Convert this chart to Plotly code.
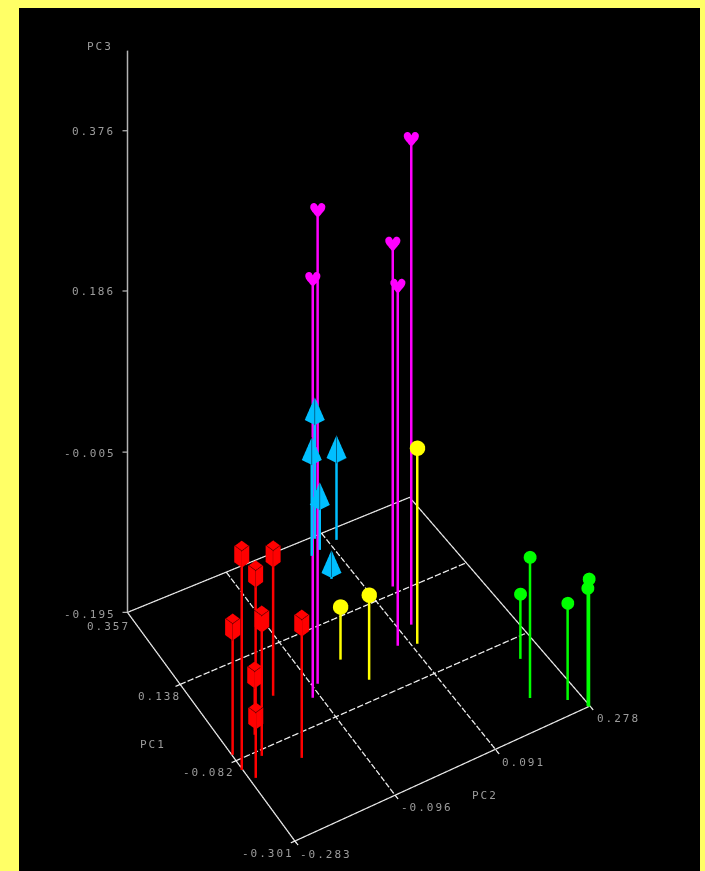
import numpy as np
import plotly.graph_objects as go

# PC2 is drawn on the scene x axis, PC1 on the y axis, PC3 on z
red_pc1 = [-0.0526, -0.0951, 0.0350, -0.0830, 0.0404, -0.1264, -0.0291, -0.1266]
red_pc2 = [-0.2889, -0.2931, -0.1992, -0.2480, -0.1624, -0.1925, -0.2340, -0.2820]
red_pc3 = [-0.0435, 0.0607, -0.0387, -0.0328, -0.0269, -0.0352, -0.1240, -0.1216]

magenta_pc1 = [0.0656, 0.0241, -0.0025, 0.1689, 0.0316]
magenta_pc2 = [0.1188, -0.0843, -0.1076, 0.1359, 0.0752]
magenta_pc3 = [0.3803, 0.3661, 0.3010, 0.2110, 0.2312]

cyan_pc1 = [0.3548, 0.3195, 0.3313, 0.3252, 0.2487]
cyan_pc2 = [0.0795, 0.0556, 0.1097, 0.0740, 0.0575]
cyan_pc3 = [-0.0447, -0.0719, -0.0885, -0.1323, -0.1784]

yellow_pc1 = [0.0559, -0.0169, 0.0171]
yellow_pc2 = [-0.0237, -0.0054, 0.1057]
yellow_pc3 = [-0.1323, -0.0944, 0.0370]

green_pc1 = [-0.2135, -0.1167, -0.2546, -0.2904, -0.2875]
green_pc2 = [0.2062, 0.2373, 0.2584, 0.2815, 0.2804]
green_pc3 = [-0.0281, -0.1181, -0.0802, -0.0435, -0.0553]

floor_pc3 = -0.195
pc3_top = 0.471
pc3_ticks = [-0.195, -0.005, 0.186, 0.376]

# floor outline corners (left, bottom, right, back, left)
frame_pc1 = [0.3682, -0.3059, -0.2898, 0.3521, 0.3682]
frame_pc2 = [-0.2772, -0.2981, 0.2837, 0.2629, -0.2772]

# interior floor rules: start and end
rule_pc1 = [[0.1560, 0.1507], [-0.0690, -0.0647], [0.3617, -0.2999], [0.3568, -0.2972]]
rule_pc2 = [[-0.2849, 0.2705], [-0.2914, 0.2766], [-0.0881, -0.1006], [0.0942, 0.0972]]

# outer tick stubs on the floor edges
pc1_edge_ticks = [(0.1560, -0.2849), (-0.0690, -0.2914), (-0.3059, -0.2981)]
pc2_edge_ticks = [(-0.2999, -0.1006), (-0.2972, 0.0972), (-0.3059, -0.2981), (-0.2898, 0.2837)]

# label text, anchored at (pc1, pc2, pc3)
labels = [
    ("PC3", 0.3682, -0.2772, 0.471, "right", -15, 4),
    ("0.376", 0.3682, -0.2772, 0.376, "right", -15, -1),
    ("0.186", 0.3682, -0.2772, 0.186, "right", -15, -1),
    ("-0.005", 0.3682, -0.2772, -0.005, "right", -15, -1),
    ("-0.195", 0.3682, -0.2772, -0.195, "right", -15, -2),
    ("0.357", 0.3682, -0.2772, -0.195, "right", 0, -14),
    ("0.138", 0.1560, -0.2849, -0.195, "right", -2, -12),
    ("PC1", 0.02, -0.29, -0.195, "center", -60, -14),
    ("-0.082", -0.0690, -0.2914, -0.195, "right", -5, -12),
    ("-0.301", -0.3059, -0.2981, -0.195, "right", -5, -12),
    ("-0.283", -0.3059, -0.2981, -0.195, "left", 9, -13),
    ("-0.096", -0.2999, -0.1006, -0.195, "left", 10, -12),
    ("PC2", -0.30, -0.02, -0.195, "center", 49, -18),
    ("0.091", -0.2972, 0.0972, -0.195, "left", 9, -12),
    ("0.278", -0.2898, 0.2837, -0.195, "left", 10, -12),
]

RED, MAGENTA, CYAN, YELLOW, GREEN = "#ff0000", "#ff00ff", "#00bfff", "#ffff00", "#00ff00"

# A shift along the line of sight: it leaves the picture position unchanged
# and only lifts the cyan group in front of the stems behind it.
TOWARD_VIEWER = (-0.6, -0.3078, 0.316)
NO_SHIFT = (0.0, 0.0, 0.0)


def with_gaps(rows):
    out = []
    for r in rows:
        out += list(r) + [None]
    return out


def stems(pc1, pc2, pc3, color, shift=NO_SHIFT):
    return go.Scatter3d(
        x=with_gaps([(b + shift[1], b + shift[1]) for b in pc2]),
        y=with_gaps([(a + shift[0], a + shift[0]) for a in pc1]),
        z=with_gaps([(floor_pc3 + shift[2], c + shift[2]) for c in pc3]),
        mode="lines", line=dict(color=color, width=5),
        hoverinfo="skip", showlegend=False,
    )


def flat_mesh(vx, vy, vz, i, j, k, color):
    return go.Mesh3d(
        x=vx, y=vy, z=vz, i=i, j=j, k=k, color=color, flatshading=True,
        lighting=dict(ambient=1, diffuse=0, specular=0, roughness=1, fresnel=0),
        hoverinfo="skip", showlegend=False,
    )


def dark_lines(xs, ys, zs, color):
    return go.Scatter3d(
        x=xs, y=ys, z=zs, mode="lines", line=dict(color=color, width=1.2),
        hoverinfo="skip", showlegend=False,
    )


def cubes(pc1, pc2, pc3):
    # corner offsets of the box footprint: left, front, right, back (pc1, pc2)
    foot = [(0.00729, -0.01084), (-0.01234, -0.00633), (-0.00729, 0.01084), (0.01234, 0.00633)]
    dz = 0.0095
    vx, vy, vz, fi, fj, fk = [], [], [], [], [], []
    ex, ey, ez = [], [], []
    cube_faces = [(0, 1, 2), (0, 2, 3), (4, 5, 6), (4, 6, 7), (0, 1, 5), (0, 5, 4),
                  (1, 2, 6), (1, 6, 5), (2, 3, 7), (2, 7, 6), (3, 0, 4), (3, 4, 7)]
    for n, (a, b, c) in enumerate(zip(pc1, pc2, pc3)):
        for sz in (-1, 1):
            for fa, fb in foot:
                vy.append(a + fa)
                vx.append(b + fb)
                vz.append(c + sz * dz)
        for f in cube_faces:
            fi.append(f[0] + 8 * n)
            fj.append(f[1] + 8 * n)
            fk.append(f[2] + 8 * n)
        lift = 0.001
        front = (b + foot[1][1], a + foot[1][0], c + dz + lift)
        tips = [(b + foot[0][1], a + foot[0][0], c + dz + lift),
                (b + foot[2][1], a + foot[2][0], c + dz + lift),
                (b + foot[1][1], a + foot[1][0], c - dz)]
        for end in tips:
            ex += [front[0], end[0], None]
            ey += [front[1], end[1], None]
            ez += [front[2], end[2], None]
    return [flat_mesh(vx, vy, vz, fi, fj, fk, RED), dark_lines(ex, ey, ez, "#500000")]


def pyramids(pc1, pc2, pc3, shift):
    vx, vy, vz, fi, fj, fk = [], [], [], [], [], []
    ex, ey, ez = [], [], []
    for n, (a0, b0, c0) in enumerate(zip(pc1, pc2, pc3)):
        a, b, c = a0 + shift[0], b0 + shift[1], c0 + shift[2]
        base = c - 0.0095
        # left, front, right, back of the base, then the tip
        corners = [(a + 0.0097, b - 0.0145, base), (a - 0.0112, b - 0.00575, base),
                   (a - 0.0097, b + 0.0145, base), (a + 0.0112, b + 0.00575, base),
                   (a, b, c + 0.0176)]
        for p1, p2, p3 in corners:
            vy.append(p1)
            vx.append(p2)
            vz.append(p3)
        for f in [(0, 1, 4), (1, 2, 4), (2, 3, 4), (3, 0, 4), (0, 1, 2), (0, 2, 3)]:
            fi.append(f[0] + 5 * n)
            fj.append(f[1] + 5 * n)
            fk.append(f[2] + 5 * n)
        ex += [corners[1][1] - 0.004, corners[4][1] - 0.004, None]
        ey += [corners[1][0] - 0.008, corners[4][0] - 0.008, None]
        ez += [corners[1][2] + 0.004, corners[4][2] + 0.004, None]
    return [flat_mesh(vx, vy, vz, fi, fj, fk, CYAN), dark_lines(ex, ey, ez, "#003050")]


def glyphs(pc1, pc2, pc3, glyph, color, size):
    return go.Scatter3d(
        x=pc2, y=pc1, z=pc3, mode="text", text=[glyph] * len(pc1),
        textposition="middle center",
        textfont=dict(family="DejaVu Sans", size=size, color=color),
        hoverinfo="skip", showlegend=False,
    )


def dots(pc1, pc2, pc3, color, size):
    return go.Scatter3d(
        x=pc2, y=pc1, z=pc3, mode="markers",
        marker=dict(symbol="circle", size=size, color=color, line=dict(width=0)),
        hoverinfo="skip", showlegend=False,
    )


def dashed(a0, a1, b0, b1, pieces):
    """Break one floor rule into short dashes (dash 3/4, gap 1/4 of each piece)."""
    edges = np.linspace(0, 1, pieces + 1)
    xs, ys = [], []
    for s0, s1 in zip(edges[:-1], edges[1:]):
        e = s0 + (s1 - s0) * 0.75
        xs += [b0 + (b1 - b0) * s0, b0 + (b1 - b0) * e, None]
        ys += [a0 + (a1 - a0) * s0, a0 + (a1 - a0) * e, None]
    return xs, ys


fig = go.Figure()

# floor
fig.add_trace(go.Scatter3d(
    x=frame_pc2, y=frame_pc1, z=[floor_pc3] * len(frame_pc1), mode="lines",
    line=dict(color="#e8e8e8", width=2.5), hoverinfo="skip", showlegend=False))
rx, ry = [], []
for (a0, a1), (b0, b1) in zip(rule_pc1, rule_pc2):
    xs, ys = dashed(a0, a1, b0, b1, 36)
    rx += xs
    ry += ys
for a, b in pc1_edge_ticks:
    rx += [b, b - 0.008, None]
    ry += [a, a, None]
for a, b in pc2_edge_ticks:
    rx += [b, b, None]
    ry += [a, a - 0.012, None]
fig.add_trace(go.Scatter3d(
    x=rx, y=ry, z=[None if v is None else floor_pc3 for v in rx], mode="lines",
    line=dict(color="#f0f0f0", width=2.5), hoverinfo="skip", showlegend=False))

# PC3 axis with its ticks
fig.add_trace(go.Scatter3d(
    x=[frame_pc2[0], frame_pc2[0]], y=[frame_pc1[0], frame_pc1[0]], z=[floor_pc3, pc3_top],
    mode="lines", line=dict(color="#b4b4b4", width=3), hoverinfo="skip", showlegend=False))
fig.add_trace(go.Scatter3d(
    x=with_gaps([(frame_pc2[0], frame_pc2[0] - 0.0072) for _ in pc3_ticks]),
    y=with_gaps([(frame_pc1[0], frame_pc1[0] + 0.0049) for _ in pc3_ticks]),
    z=with_gaps([(t, t) for t in pc3_ticks]),
    mode="lines", line=dict(color="#b4b4b4", width=2.5), hoverinfo="skip", showlegend=False))

# groups
fig.add_trace(stems(red_pc1, red_pc2, red_pc3, RED))
fig.add_trace(stems(magenta_pc1, magenta_pc2, magenta_pc3, MAGENTA))
fig.add_trace(stems(cyan_pc1, cyan_pc2, cyan_pc3, CYAN, TOWARD_VIEWER))
fig.add_trace(stems(yellow_pc1, yellow_pc2, yellow_pc3, YELLOW))
fig.add_trace(stems(green_pc1, green_pc2, green_pc3, GREEN))
fig.add_traces(cubes(red_pc1, red_pc2, red_pc3))
fig.add_traces(pyramids(cyan_pc1, cyan_pc2, cyan_pc3, TOWARD_VIEWER))
fig.add_trace(glyphs(magenta_pc1, magenta_pc2, magenta_pc3, "\u2665", MAGENTA, 21))
fig.add_trace(dots(green_pc1, green_pc2, green_pc3, GREEN, 7.5))
fig.add_trace(dots(yellow_pc1, yellow_pc2, yellow_pc3, YELLOW, 9))

annotations = [
    dict(x=b, y=a, z=c, text=t, showarrow=False, xanchor=anchor, yanchor="middle",
         xshift=sx, yshift=sy, font=dict(family="DejaVu Sans Mono", size=11, color="#9c9c9c"))
    for t, a, b, c, anchor, sx, sy in labels
]

hidden = dict(visible=False)
eye_dir = np.array([-0.3416, -0.5819, 0.738])
eye_dist = 2.064
center_z = -0.1596
eye = eye_dir * eye_dist
fig.update_layout(
    width=705, height=871, autosize=False,
    margin=dict(l=0, r=0, t=0, b=0),
    paper_bgcolor="#ffff66",
    scene=dict(
        domain=dict(x=[19 / 705, 700 / 705], y=[0, 863 / 871]),
        bgcolor="#000000",
        xaxis=dict(range=[-0.35, 0.35], **hidden),
        yaxis=dict(range=[-0.37, 0.43], **hidden),
        zaxis=dict(range=[-0.25, 0.5], **hidden),
        aspectmode="manual",
        aspectratio=dict(x=0.968, y=0.968, z=2.173),
        camera=dict(
            projection=dict(type="orthographic"),
            up=dict(x=0, y=0, z=1),
            center=dict(x=0, y=0, z=center_z),
            eye=dict(x=float(eye[0]), y=float(eye[1]), z=float(eye[2]) + center_z),
        ),
        annotations=annotations,
    ),
)

style = ("var s=document.createElement('style');"
         "s.textContent='body{margin:0;background:#ffff66}.annotation-text{letter-spacing:2px}';"
         "document.head.appendChild(s);")
fig.write_html("out.html", post_script=style, config={"displayModeBar": False})
